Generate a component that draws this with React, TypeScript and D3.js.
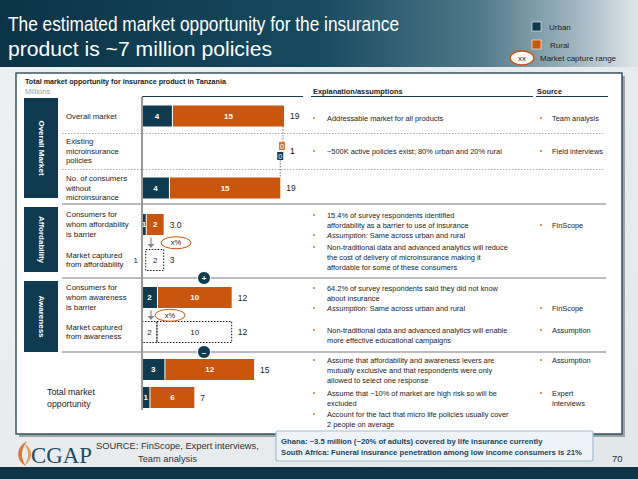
import React from 'react';
import * as d3 from 'd3';

// rows of the waterfall, top to bottom
const rows = ['overall', 'existing', 'without', 'affBarrier', 'affCaptured', 'awaBarrier', 'awaCaptured', 'totalA', 'totalB'];
const rowLabels = [
	['Overall market'],
	['Existing', 'microinsurance', 'policies'],
	['No. of consumers', 'without', 'microinsurance'],
	['Consumers for', 'whom affordability', 'is barrier'],
	['Market captured', 'from affordability'],
	['Consumers for', 'whom awareness', 'is barrier'],
	['Market captured', 'from awareness'],
	[],
	[],
];
const rowKinds = ['solid', 'float', 'solid', 'solid', 'dotted', 'solid', 'dotted', 'solid', 'solid'];
const urban = [4, 0.4, 3.6, 0.5, 0.5, 2, 2, 3, 1];
const rural = [15, 0.1, 14.9, 2.4, 2.4, 10, 10, 12, 6];
const totalLabels = ['19', '1', '19', '3.0', '3', '12', '12', '15', '7'];

const sections = ['Overall Market', 'Affordability', 'Awareness'];

const explanations = [
	[{ lines: ['Addressable market for all products'] }],
	[{ lines: ['~500K active policies exist; 80% urban and 20% rural'] }],
	[
		{ lines: ['15.4% of survey respondents identified', 'affordability as a barrier to use of insurance'] },
		{ lines: ['Same across urban  and rural'], italic: 'Assumption:' },
		{ lines: ['Non-traditional data and advanced analytics will reduce', 'the cost of delivery of microinsurance making it', 'affordable for some of these consumers'] },
	],
	[
		{ lines: ['64.2% of survey respondents said they did not know', 'about insurance'] },
		{ lines: ['Same across urban  and rural'], italic: 'Assumption:' },
		{ lines: ['Non-traditional data and advanced analytics will enable', 'more effective educational campaigns'] },
	],
	[
		{ lines: ['Assume that affordability and awareness levers are', 'mutually exclusive and that respondents were only', 'allowed to select one response'] },
		{ lines: ['Assume that ~10% of market are high risk so will be', 'excluded'] },
		{ lines: ['Account for the fact that micro life policies usually cover', '2 people on average'] },
	],
];
const sources = [
	[['Team analysis']],
	[['Field interviews']],
	[['FinScope']],
	[['FinScope'], ['Assumption']],
	[['Assumption'], ['Expert', 'interviews']],
];

// layout
const W = 638;
const H = 479;
const URBAN = '#0f3b50';
const RURAL = '#c9560c';
const FONT = '"Liberation Sans", Arial, sans-serif';
const x = d3.scaleLinear().domain([0, 19]).range([142, 284]);
const y = d3.scaleOrdinal<string, number>().domain(rows).range([116, 151, 188, 224.5, 260, 297.5, 332, 369.5, 397.5]);
const sectionBands = [[98, 198], [207, 272], [281, 352]];
const explTops = [[118], [151], [215, 235, 247], [288, 308, 330], [360, 393, 414]];
const srcTops = [[118], [151], [225], [308, 330], [360, 393]];
const LH = 10.4;

function App() {
	const bars = rows.map((r, i) => {
		const cy = y(r);
		const u = urban[i];
		const t = urban[i] + rural[i];
		const kind = rowKinds[i];
		if (kind === 'float') {
			const rx = x(19);
			const ux = x(19 - rural[i]);
			return (
				<g key={r} fontFamily={FONT}>
					<line x1={rx - 1} x2={rx - 1} y1={y('overall') + 10} y2={cy - 9} stroke="#777" strokeDasharray="1.5,1.5" />
					<line x1={ux - 3} x2={ux - 3} y1={cy + 9} y2={y('without') - 10} stroke="#777" strokeDasharray="1.5,1.5" />
					<rect x={rx - 5} y={cy - 9} width={6} height={8} fill="#d9782f" />
					<text x={rx - 2} y={cy - 5} fill="#fff" fontSize={7} textAnchor="middle" dominantBaseline="central">{Math.round(rural[i])}</text>
					<rect x={ux - 6} y={cy + 1} width={6} height={8} fill={URBAN} />
					<text x={ux - 3} y={cy + 5} fill="#fff" fontSize={7} textAnchor="middle" dominantBaseline="central">{Math.round(u)}</text>
					<text x={rx + 6} y={cy} fontSize={8.5} dominantBaseline="central">{totalLabels[i]}</text>
				</g>
			);
		}
		const h = 21;
		const segs = [
			{ x0: x(0), x1: x(u), v: u, fill: URBAN },
			{ x0: x(u) + 1, x1: x(t), v: rural[i], fill: RURAL },
		];
		return (
			<g key={r} fontFamily={FONT}>
				{segs.map((s, j) => {
					const narrow = s.x1 - s.x0 < 8;
					const lx = kind === 'dotted' && narrow ? x(0) - 4 : (s.x0 + s.x1) / 2;
					return (
						<g key={j}>
							{kind === 'dotted' ? (
								!narrow && <rect x={j === 0 ? s.x0 : s.x0 - 1} y={cy - h / 2} width={s.x1 - s.x0 + (j === 0 ? 0 : 1)} height={h} fill="none" stroke="#111" strokeDasharray="1.5,1.5" />
							) : (
								<rect x={s.x0} y={cy - h / 2} width={s.x1 - s.x0} height={h} fill={s.fill} />
							)}
							<text x={lx} y={cy} fill={kind === 'dotted' ? '#222' : '#fff'} fontSize={8} fontWeight={kind === 'dotted' ? 400 : 700}
								textAnchor={kind === 'dotted' && narrow ? 'end' : 'middle'} dominantBaseline="central">{Math.round(s.v)}</text>
						</g>
					);
				})}
				<text x={x(t) + 6} y={cy} fontSize={8.5} fill="#222" dominantBaseline="central">{totalLabels[i]}</text>
			</g>
		);
	});

	const labels = rows.map((r, i) => {
		const n = rowLabels[i].length;
		return (
			<g key={r}>
				{rowLabels[i].map((l, k) => (
					<text key={k} x={66} y={y(r) + (k - (n - 1) / 2) * 9.8} fontSize={7.8} fill="#222" fontFamily={FONT} dominantBaseline="central">{l}</text>
				))}
			</g>
		);
	});

	const expl = explanations.map((sec, si) => sec.map((b, bi) => (
		<g key={`${si}-${bi}`} fontFamily={FONT} fontSize={7.4} fill="#222">
			<circle cx={314} cy={explTops[si][bi]} r={1.1} fill="#e07b39" />
			{b.lines.map((l, k) => (
				<text key={k} x={327} y={explTops[si][bi] + k * LH} dominantBaseline="central">
					{k === 0 && b.italic ? <tspan fontStyle="italic">{b.italic} </tspan> : null}
					{l}
				</text>
			))}
		</g>
	)));

	const src = sources.map((sec, si) => sec.map((b, bi) => (
		<g key={`${si}-${bi}`} fontFamily={FONT} fontSize={7.4} fill="#222">
			<circle cx={541} cy={srcTops[si][bi]} r={1.1} fill="#e07b39" />
			{b.map((l, k) => (
				<text key={k} x={552} y={srcTops[si][bi] + k * LH} dominantBaseline="central">{l}</text>
			))}
		</g>
	)));

	return (
		<svg width={W} height={H} style={{ position: 'absolute', left: 0, top: 0 }} fontFamily={FONT}>
			<defs>
				<linearGradient id="hdr" x1="0" x2="1" y1="0" y2="0">
					<stop offset="0" stopColor="#0b3346" />
					<stop offset="0.5" stopColor="#174a5f" />
					<stop offset="0.75" stopColor="#4f7888" />
					<stop offset="0.9" stopColor="#9fb5bf" />
					<stop offset="1" stopColor="#dfe6e9" />
				</linearGradient>
				<linearGradient id="bg" x1="0" x2="1" y1="0" y2="1">
					<stop offset="0" stopColor="#eef1f2" />
					<stop offset="1" stopColor="#e2e7e9" />
				</linearGradient>
			</defs>
			<rect width={W} height={H} fill="url(#bg)" />
			<rect width={W} height={67} fill="url(#hdr)" />
			<text x={8} y={31} fill="#fff" fontSize={20} textLength={391} lengthAdjust="spacingAndGlyphs">The estimated market opportunity for the insurance</text>
			<text x={8} y={56} fill="#fff" fontSize={20} textLength={264} lengthAdjust="spacingAndGlyphs">product is ~7 million policies</text>

			{/* legend */}
			<rect x={532} y={22} width={9} height={9} fill={URBAN} stroke="#fff" strokeWidth={0.6} />
			<text x={549} y={27} fontSize={8} fill="#222" dominantBaseline="central">Urban</text>
			<rect x={532} y={40} width={9} height={9} fill={RURAL} stroke="#fff" strokeWidth={0.6} />
			<text x={550} y={45} fontSize={8} fill="#222" dominantBaseline="central">Rural</text>
			<ellipse cx={522} cy={58} rx={12} ry={7} fill="#fff" stroke={RURAL} strokeWidth={1.5} />
			<text x={522} y={58} fontSize={8} textAnchor="middle" fill="#222" dominantBaseline="central">xx</text>
			<text x={540} y={58} fontSize={8} fill="#222" dominantBaseline="central">Market capture range</text>

			{/* main panel */}
			<rect x={19} y={76} width={606} height={361} fill="#9aa5aa" />
			<rect x={16} y={73} width={606} height={361} fill="#fff" stroke="#1d3c4c" strokeWidth={1.3} />
			<text x={25} y={81} fontSize={7.2} fontWeight={700} fill="#222" dominantBaseline="central">Total market opportunity for insurance product in Tanzania</text>
			<text x={25} y={91} fontSize={7.6} fill="#999" dominantBaseline="central">Millions</text>
			<text x={313} y={91} fontSize={7.4} fontWeight={700} fill="#222" dominantBaseline="central">Explanation/assumptions</text>
			<text x={537} y={91} fontSize={7.4} fontWeight={700} fill="#222" dominantBaseline="central">Source</text>
			<line x1={142} x2={303} y1={96.5} y2={96.5} stroke="#1d3c4c" />
			<line x1={311} x2={533} y1={96.5} y2={96.5} stroke="#1d3c4c" />
			<line x1={536} x2={608} y1={96.5} y2={96.5} stroke="#1d3c4c" />

			{/* separators */}
			{[133.5, 169.5].map(v => <line key={v} x1={62} x2={603} y1={v} y2={v} stroke="#888" strokeWidth={0.7} strokeDasharray="1.5,1.5" />)}
			{[204, 278, 352].map(v => <line key={v} x1={62} x2={606} y1={v} y2={v} stroke="#555" strokeWidth={0.8} />)}

			{sections.map((s, i) => {
				const [t, b] = sectionBands[i];
				const cy = (t + b) / 2;
				return (
					<g key={s}>
						<rect x={24} y={t} width={34} height={b - t} fill={URBAN} />
						<text transform={`translate(41,${cy}) rotate(90)`} fontSize={8} fontWeight={700} fill="#fff" textAnchor="middle" dominantBaseline="central">{s}</text>
					</g>
				);
			})}

			{labels}
			<text x={47} y={392} fontSize={8.8} fill="#222" dominantBaseline="central">Total market</text>
			<text x={47} y={404} fontSize={8.8} fill="#222" dominantBaseline="central">opportunity</text>

			{bars}
			<line x1={142} x2={142} y1={97} y2={410} stroke="#999" strokeWidth={2} />

			{/* capture arrows */}
			{[['affBarrier', 'affCaptured', 34], ['awaBarrier', 'awaCaptured', 28]].map(([a, b, dx]) => {
				const top = y(a as string) + 13;
				const bot = y(b as string) - 12;
				const mid = (top + bot) / 2;
				return (
					<g key={a as string}>
						<line x1={151} x2={151} y1={top} y2={bot - 3} stroke="#888" strokeWidth={1.2} />
						<path d={`M147.5,${bot - 4}L154.5,${bot - 4}L151,${bot}Z`} fill="#888" />
						<ellipse cx={x(0) + (dx as number)} cy={mid} rx={15} ry={6} fill="#fff" stroke={RURAL} strokeWidth={1} />
						<text x={x(0) + (dx as number)} y={mid} fontSize={7.5} textAnchor="middle" fill="#222" dominantBaseline="central">x%</text>
					</g>
				);
			})}
			{[[278, '+'], [352, '=']].map(([cy, s]) => (
				<g key={s as string}>
					<circle cx={204} cy={cy as number} r={6.5} fill={URBAN} stroke="#fff" strokeWidth={1} />
					<text x={204} y={(cy as number) + 0.5} fontSize={8} fontWeight={700} fill="#fff" textAnchor="middle" dominantBaseline="central">{s === '=' ? '–' : s}</text>
				</g>
			))}

			{expl}
			{src}

			{/* callout */}
			<rect x={276} y={431} width={317} height={30} rx={2} fill="#edf3f7" stroke="#a3bfd0" strokeWidth={1.2} />
			<text x={281} y={441} fontSize={7.7} fontWeight={700} fill="#1c4862" dominantBaseline="central">Ghana: ~3.5 million (~20% of adults) covered by life insurance currently</text>
			<text x={281} y={452} fontSize={7.7} fontWeight={700} fill="#1c4862" dominantBaseline="central">South Africa: Funeral insurance penetration among low income consumers is 21%</text>
			<text x={612} y={458} fontSize={9.5} fill="#333" dominantBaseline="central">70</text>

			{/* footer */}
			<path d="M27,441 C16,447 15,460 26,466 C20,458 21,449 27,441 Z" fill="#d9782f" />
			<path d="M24,443 C33,449 34,459 24,466 C30,458 29,450 24,443 Z" fill="#e59a55" />
			<text x={31} y={463} fontSize={24} fontFamily='"Liberation Serif", serif' fill="#1d4a63" textLength={61} lengthAdjust="spacingAndGlyphs">CGAP</text>
			<text x={96} y={446} fontSize={9.3} fill="#333" dominantBaseline="central">SOURCE: FinScope, Expert interviews,</text>
			<text x={138} y={459} fontSize={9.3} fill="#333" dominantBaseline="central">Team analysis</text>
			<rect x={0} y={467} width={W} height={12} fill="#0d3447" />
		</svg>
	);
}

export default App;
